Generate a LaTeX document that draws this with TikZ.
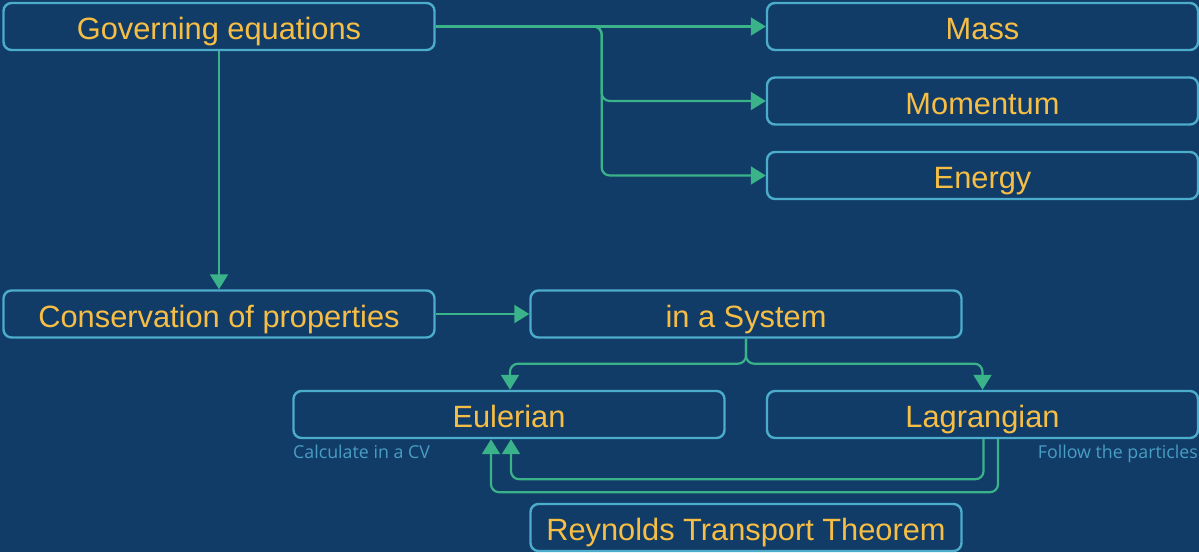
\documentclass[tikz,border=0pt]{standalone}
\usepackage{fontspec}
\setmainfont{Liberation Sans}
\newfontfamily\notefont{Open Sans}
\usetikzlibrary{arrows.meta}
\definecolor{bgblue}{RGB}{17,60,103}
\definecolor{boxline}{RGB}{76,172,204}
\definecolor{labeltext}{RGB}{247,190,69}
\definecolor{linkgreen}{RGB}{58,178,138}
\definecolor{notetext}{RGB}{72,158,196}
\tikzset{
  topic/.style={draw=boxline, line width=2.4pt, rounded corners=8pt, fill=bgblue,
    minimum width=431pt, minimum height=47pt, inner sep=0pt,
    text height=27pt, text depth=1pt,
    text=labeltext, font=\fontsize{30.8}{34}\selectfont},
  link/.style={draw=linkgreen, line width=2.2pt, rounded corners=8pt,
    -{Triangle[length=15pt,width=18pt]}},
  note/.style={text=notetext, font=\notefont\fontsize{17.8}{20}\selectfont, inner sep=0pt}
}
\begin{document}
\begin{tikzpicture}[x=1pt, y=-1pt]
  \fill[bgblue] (0,0) rectangle (1199,552);
  \useasboundingbox (0,0) rectangle (1199,552);

  % boxes
  \node[topic] (gov) at (219,26.5) {Governing equations};
  \node[topic] (mass) at (982.5,26.5) {Mass};
  \node[topic] (mom) at (982.5,101) {Momentum};
  \node[topic] (ene) at (982.5,175.5) {Energy};
  \node[topic] (cons) at (219,314) {Conservation of properties};
  \node[topic] (sys) at (746,314) {in a System};
  \node[topic] (eul) at (509,414.5) {Eulerian};
  \node[topic] (lag) at (982.5,414.5) {Lagrangian};
  \node[topic] (rtt) at (746,527.5) {Reynolds Transport Theorem};

  % side notes
  \node[note, anchor=base west] (cvnote) at (293,458.5) {Calculate in a CV};
  \node[note, anchor=base east] (pnote) at (1198,458.5) {Follow the particles};

  % governing equations branches
  \draw[link] (gov.east) -- (mass.west);
  \draw[link] (gov.east) -- ++(166,0) |- (mom.west);
  \draw[link] (gov.east) -- ++(166,0) |- (ene.west);
  \draw[link] (gov.south) -- (cons.north);
  \draw[link] (cons.east) -- (sys.west);

  % system fork
  \draw[link] (sys.south) -- ++(0,25) -| ([xshift=1pt]eul.north);
  \draw[link] (sys.south) -- ++(0,25) -| (lag.north);

  % Lagrangian back to Eulerian
  \draw[link] ([xshift=1pt]lag.south) -- ++(0,40) -| ([xshift=2pt]eul.south);
  \draw[link] ([xshift=15.5pt]lag.south) -- ++(0,53) -| ([xshift=-18pt]eul.south);
\end{tikzpicture}
\end{document}
